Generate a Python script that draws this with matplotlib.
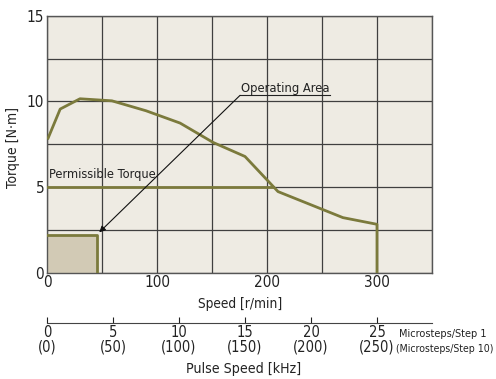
import numpy as np
import matplotlib.pyplot as plt
from matplotlib.patches import Rectangle

# pull-out torque curve, speed [r/min] vs torque [N·m]
speed = [1, 12, 30, 59, 90, 121, 151, 180, 210, 250, 269, 300, 300]
torque = [7.85, 9.55, 10.15, 10.03, 9.45, 8.73, 7.6, 6.78, 4.73, 3.7, 3.21, 2.82, 0]

permissible_torque = 5.0
permissible_end = 205

op_speed = 45
op_torque = 2.2

pulse_ticks = [0, 5, 10, 15, 20, 25]
pulse_ticks_10 = [0, 50, 100, 150, 200, 250]
rpm_per_khz = 12.0

olive = '#7b7a3c'
grid_col = '#3f3f3f'
bg = '#eeebe3'
txt = '#222222'

plt.rcParams['font.family'] = ['Liberation Sans Narrow', 'DejaVu Sans']
plt.rcParams['font.stretch'] = 'condensed'

fig = plt.figure(figsize=(4.96, 3.79), dpi=100)
W, H = 496, 379
ax = fig.add_axes([47 / W, 1 - 272.6 / H, 385 / W, (272.6 - 15.7) / H])
ax.set_facecolor(bg)
ax.set_xlim(0, 350)
ax.set_ylim(0, 15)

ax.set_xticks(np.arange(0, 351, 50), minor=True)
ax.set_yticks(np.arange(0, 15.1, 2.5), minor=True)
ax.set_xticks([0, 100, 200, 300])
ax.set_yticks([0, 5, 10, 15])
ax.grid(True, which='both', color=grid_col, lw=0.9)
ax.set_axisbelow(True)
ax.tick_params(which='both', length=0, labelsize=11, colors=txt, pad=2)
for s in ax.spines.values():
    s.set_color('#555555')
    s.set_linewidth(1.0)

# operating area
ax.add_patch(Rectangle((0, 0), op_speed, op_torque, facecolor='#d2cab5',
                       edgecolor='none', zorder=2))
ax.plot([0, op_speed, op_speed], [op_torque, op_torque, 0], color=olive, lw=2, zorder=3)

ax.plot(speed, torque, color=olive, lw=2, zorder=3)
ax.plot([0, permissible_end], [permissible_torque, permissible_torque], color=olive, lw=2, zorder=3)

ax.text(2, 5.55, 'Permissible Torque', fontsize=9.2, color=txt, zorder=4)
ax.text(176.5, 10.55, 'Operating Area', fontsize=9.3, color=txt, zorder=4)
ax.plot([175.5, 257], [10.35, 10.35], color=txt, lw=0.8, zorder=4)
ax.annotate('', xy=(47.5, 2.35), xytext=(175.5, 10.35),
            arrowprops=dict(arrowstyle='-|>', color='#111111', lw=0.8,
                            mutation_scale=9, shrinkA=0, shrinkB=0), zorder=4)

ax.set_xlabel('Speed [r/min]', fontsize=9.8, color=txt)
ax.xaxis.set_label_coords((240 - 47) / 385, -(297 - 272.6) / 256.9)
ax.set_ylabel('Torque [N·m]', fontsize=10, color=txt)
ax.yaxis.set_label_coords((20 - 47) / 385, (272.6 - 147) / 256.9)

# pulse speed scale
ax2 = fig.add_axes([47 / W, 1 - 322.7 / H, 385 / W, 0.0001])
ax2.set_xlim(0, 350 / rpm_per_khz)
ax2.set_yticks([])
for side in ['left', 'right', 'top']:
    ax2.spines[side].set_visible(False)
ax2.spines['bottom'].set_color('#444444')
ax2.set_xticks(pulse_ticks)
ax2.set_xticklabels([f'{a}\n({b})' for a, b in zip(pulse_ticks, pulse_ticks_10)],
                    linespacing=0.95)
ax2.tick_params(axis='x', direction='in', length=4, labelsize=10.5,
                colors=txt, pad=2)

fig.text(243.5 / W, 1 - 369 / H, 'Pulse Speed [kHz]', fontsize=10.2, color=txt,
         ha='center', va='center')
fig.text(399 / W, 1 - 334 / H, 'Microsteps/Step 1', fontsize=7.8, color=txt,
         ha='left', va='center')
fig.text(396 / W, 1 - 349 / H, '(Microsteps/Step 10)', fontsize=7.6, color=txt,
         ha='left', va='center')

fig.savefig('out.png', dpi=100)
